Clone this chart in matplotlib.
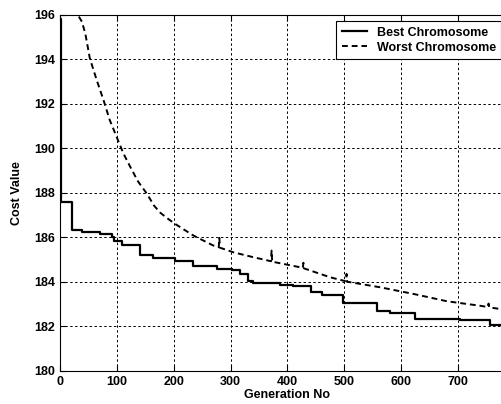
import matplotlib
matplotlib.use("Agg")
import matplotlib.pyplot as plt

plt.rcParams['font.family'] = ['Liberation Sans', 'DejaVu Sans']
plt.rcParams['font.weight'] = 'bold'

# best chromosome (step curve)
best_gen = [0, 1, 20, 38, 70, 91, 95, 108, 140, 163, 202, 234, 276, 302, 317, 331, 340,
            387, 410, 442, 460, 498, 557, 580, 624, 703, 756, 780]
best_val = [195.8, 187.6, 186.33, 186.23, 186.15, 186.02, 185.85, 185.63, 185.18, 185.05,
            184.92, 184.7, 184.57, 184.53, 184.35, 184.05, 183.93, 183.85, 183.79, 183.55,
            183.42, 183.05, 182.68, 182.6, 182.32, 182.28, 182.07, 182.07]

# worst chromosome (smooth with a few spikes)
worst_gen = [0, 15, 27, 33, 38, 44, 52, 64, 76, 87, 99, 111, 123, 137, 152, 158, 165, 176,
             190, 202, 234, 269, 279, 280, 281, 305, 340, 371, 372, 373, 387, 422, 427, 428,
             429, 475, 498, 503, 504, 505, 563, 622, 681, 739, 753, 754, 755, 780]
worst_val = [199.0, 197.0, 196.1, 195.9, 195.69, 195.16, 194.04, 193.07, 192.17, 191.27,
             190.52, 189.77, 189.17, 188.5, 187.97, 187.72, 187.42, 187.1, 186.82, 186.6,
             186.08, 185.63, 185.55, 185.97, 185.53, 185.32, 185.1, 184.92, 185.4, 184.9,
             184.83, 184.65, 184.62, 184.85, 184.6, 184.2, 184.05, 184.02, 184.35, 184.0,
             183.75, 183.45, 183.12, 182.92, 182.86, 183.02, 182.85, 182.75]

fig = plt.figure(figsize=(5.02, 4.04), dpi=100)
ax = fig.add_axes([0.1201, 0.0824, 0.9052, 0.8812])

ax.plot(best_gen, best_val, color='black', lw=1.6, drawstyle='steps-post', label='Best Chromosome')
ax.plot(worst_gen, worst_val, color='black', lw=1.4, ls=(0, (3, 2)), label='Worst Chromosome')

ax.set_xlim(0, 800)
ax.set_ylim(180, 196)
ax.set_xticks(range(0, 800, 100))
ax.set_yticks(range(180, 197, 2))
ax.grid(True, color='black', ls=(0, (2.5, 2.5)), lw=0.7)
ax.tick_params(direction='in', top=True, right=False, labelsize=9, length=4, width=0.8)
for s in ax.spines.values():
    s.set_linewidth(0.8)

ax.set_xlabel('Generation No', fontsize=9, fontweight='bold', labelpad=1)
ax.set_ylabel('Cost Value', fontsize=9, fontweight='bold', labelpad=8)

leg = fig.legend(loc='upper left', bbox_to_anchor=(336 / 502, 0.948), fontsize=9,
                 fancybox=False, edgecolor='black', framealpha=1, borderaxespad=0,
                 handlelength=2.0, handletextpad=0.8, borderpad=0.45, labelspacing=0.25)
leg.get_frame().set_linewidth(0.8)

fig.savefig('out.png', dpi=100)
